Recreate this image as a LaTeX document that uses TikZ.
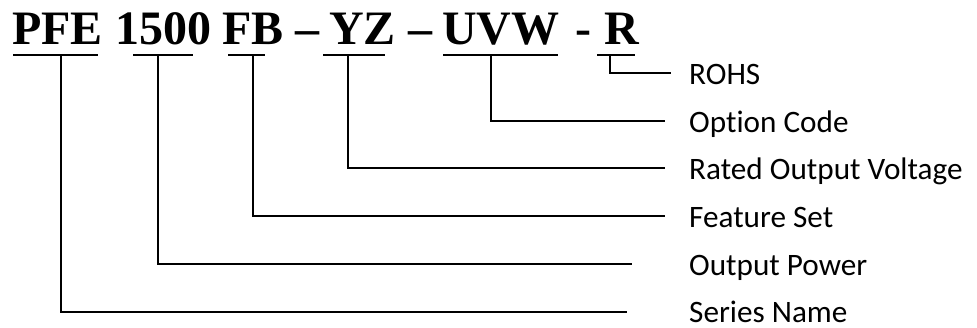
\documentclass[tikz,border=0pt]{standalone}
\usepackage{fontspec}
\setmainfont{Liberation Serif}
\newfontfamily\labfont[Ligatures=NoCommon]{Carlito}
\begin{document}
\begin{tikzpicture}[x=1pt,y=-1pt,
  code/.style={anchor=base west,inner sep=0pt,font=\fontsize{48}{48}\selectfont\bfseries},
  lab/.style={anchor=base west,inner sep=0pt,text depth=0pt,font=\labfont\fontsize{31.2}{31.2}\selectfont},
  uline/.style={line width=2.4pt},
  conn/.style={line width=1.8pt}]
\useasboundingbox (0,0) rectangle (977,327);
% code string
\node[code] (c1) at (12,44.5) {PFE};
\node[code] (c2) at (115,44.5) {1500};
\node[code] (c3) at (222,44.5) {FB};
\node[code] (d1) at (295,44.5) {–};
\node[code] (c4) at (329,44.5) {YZ};
\node[code] (d2) at (408,44.5) {–};
\node[code] (c5) at (442,44.5) {UVW};
\node[code] (d3) at (575,44.5) {-};
\node[code] (c6) at (604,44.5) {R};
% underline ends
\coordinate (u1a) at (13,55);  \coordinate (u1b) at (98,55);
\coordinate (u2a) at (133,55); \coordinate (u2b) at (193,55);
\coordinate (u3a) at (228,55); \coordinate (u3b) at (265,55);
\coordinate (u4a) at (323,55); \coordinate (u4b) at (385,55);
\coordinate (u5a) at (443,55); \coordinate (u5b) at (558,55);
\coordinate (u6a) at (597,55); \coordinate (u6b) at (635,55);
\foreach \i in {1,...,6} \draw[uline] (u\i a) -- (u\i b);
% taps
\coordinate (t1) at (61,55);
\coordinate (t2) at (158,55);
\coordinate (t3) at (253,55);
\coordinate (t4) at (348,55);
\coordinate (t5) at (491,55);
\coordinate (t6) at (610,55);
% connector ends
\coordinate (e1) at (627,312);
\coordinate (e2) at (632,264);
\coordinate (e3) at (665,216);
\coordinate (e4) at (665,168);
\coordinate (e5) at (665,121);
\coordinate (e6) at (671,73);
% labels
\node[lab] (l6) at (689,84) {ROHS};
\node[lab] (l5) at (689,132) {Option Code};
\node[lab] (l4) at (689,179) {Rated Output Voltage};
\node[lab] (l3) at (689,227) {Feature Set};
\node[lab] (l2) at (689,275) {Output Power};
\node[lab] (l1) at (689,322) {Series Name};
\foreach \i in {1,...,6} \draw[conn] (t\i) |- (e\i);
\end{tikzpicture}
\end{document}
